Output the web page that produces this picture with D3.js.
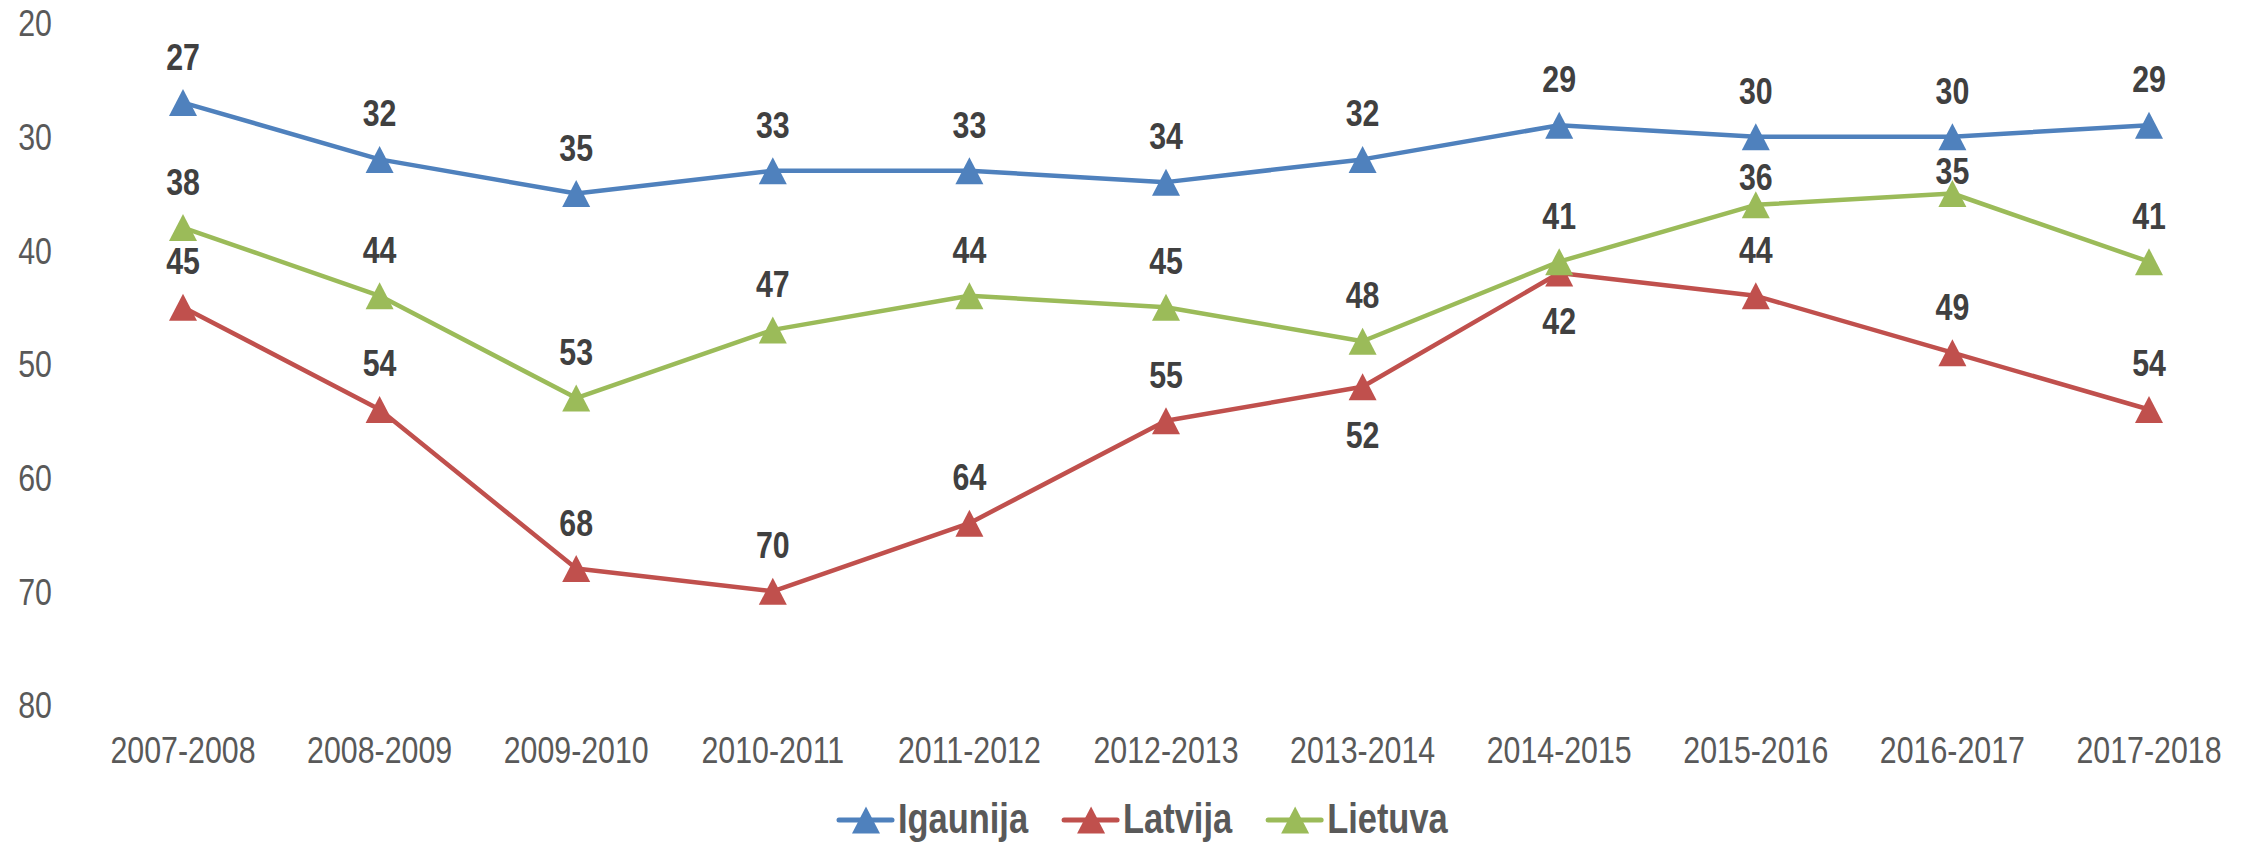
<!DOCTYPE html>
<html>
<head>
<meta charset="utf-8">
<script src="https://cdn.jsdelivr.net/npm/d3@7"></script>
<style>
  html, body { margin: 0; padding: 0; background: #fff; }
  svg { display: block; }
  text { font-family: 'Liberation Sans Narrow', 'Arial Narrow', 'Liberation Sans', Arial, sans-serif; }
</style>
</head>
<body>
<svg id="chart" width="2252" height="843"></svg>
<script>
// ---- data ----
const categories = ["2007-2008","2008-2009","2009-2010","2010-2011","2011-2012","2012-2013","2013-2014","2014-2015","2015-2016","2016-2017","2017-2018"];
const seriesNames = ["Igaunija","Latvija","Lietuva"];
const igaunija = [27,32,35,33,33,34,32,29,30,30,29];
const latvija  = [45,54,68,70,64,55,52,42,44,49,54];
const lietuva  = [38,44,53,47,44,45,48,41,36,35,41];
const yTicks = [20,30,40,50,60,70,80];
// label placement: "a" above, "b" below, "m"/"n" squeezed above
const igaunijaPos = ["a","a","a","a","a","a","a","a","a","a","a"];
const latvijaPos  = ["a","a","a","a","a","a","b","b","a","a","a"];
const lietuvaPos  = ["a","a","a","a","a","a","a","a","m","n","a"];

const colors = ["#4F81BD","#C0504D","#9BBB59"];
const seriesValues = [igaunija, latvija, lietuva];
const seriesPos = [igaunijaPos, latvijaPos, lietuvaPos];

// horizontal condensing (emulates a narrow face when none is installed)
const SX = 0.82;
const place = (xf, yf) => (d, i) => `translate(${xf(d, i)},${yf(d, i)}) scale(${SX},1)`;

const svg = d3.select("#chart");
const x = d3.scalePoint().domain(categories).range([183, 2149]);
const y = d3.scaleLinear().domain([20, 80]).range([23, 705]);

// y axis labels
svg.append("g").selectAll("text").data(yTicks).join("text")
  .attr("transform", place(() => 52, d => y(d)))
  .attr("dy", "0.36em")
  .attr("text-anchor", "end")
  .attr("font-size", 37)
  .attr("fill", "#595959")
  .text(d => d);

// x axis labels
svg.append("g").selectAll("text").data(categories).join("text")
  .attr("transform", place(d => x(d), () => 763))
  .attr("text-anchor", "middle")
  .attr("font-size", 37)
  .attr("fill", "#595959")
  .text(d => d);

const triW = 28, triH = 27;
const tri = `M0,${-triH/2}L${triW/2},${triH/2}L${-triW/2},${triH/2}Z`;

const line = d3.line().x((d,i) => x(categories[i])).y(d => y(d));

seriesValues.forEach((vals, s) => {
  const g = svg.append("g");
  g.append("path").datum(vals)
    .attr("d", line)
    .attr("fill", "none")
    .attr("stroke", colors[s])
    .attr("stroke-width", 4.5)
    .attr("stroke-linejoin", "round");
  g.selectAll("path.m").data(vals).join("path")
    .attr("class", "m")
    .attr("d", tri)
    .attr("transform", (d,i) => `translate(${x(categories[i])},${y(d)})`)
    .attr("fill", colors[s]);
});

// data labels
const offs = { a: -33, b: 61, m: -15, n: -9.5 };
seriesValues.forEach((vals, s) => {
  svg.append("g").selectAll("text").data(vals).join("text")
    .attr("transform", place((d,i) => x(categories[i]), (d,i) => y(d) + offs[seriesPos[s][i]]))
    .attr("text-anchor", "middle")
    .attr("font-size", 37)
    .attr("font-weight", "bold")
    .attr("fill", "#404040")
    .text(d => d);
});

// legend
const leg = svg.append("g");
let lx = 837;
const ly = 820;
seriesNames.forEach((name, s) => {
  leg.append("line")
    .attr("x1", lx + 2).attr("x2", lx + 55)
    .attr("y1", ly).attr("y2", ly)
    .attr("stroke", colors[s]).attr("stroke-width", 5)
    .attr("stroke-linecap", "round");
  leg.append("path").attr("d", tri)
    .attr("transform", `translate(${lx + 29},${ly})`)
    .attr("fill", colors[s]);
  const t = leg.append("text")
    .attr("transform", `translate(${lx + 61},${ly + 13}) scale(${SX},1)`)
    .attr("font-size", 42)
    .attr("font-weight", "bold")
    .attr("fill", "#595959")
    .text(name);
  lx = lx + 61 + t.node().getComputedTextLength() * SX + 34;
});
</script>
</body>
</html>
